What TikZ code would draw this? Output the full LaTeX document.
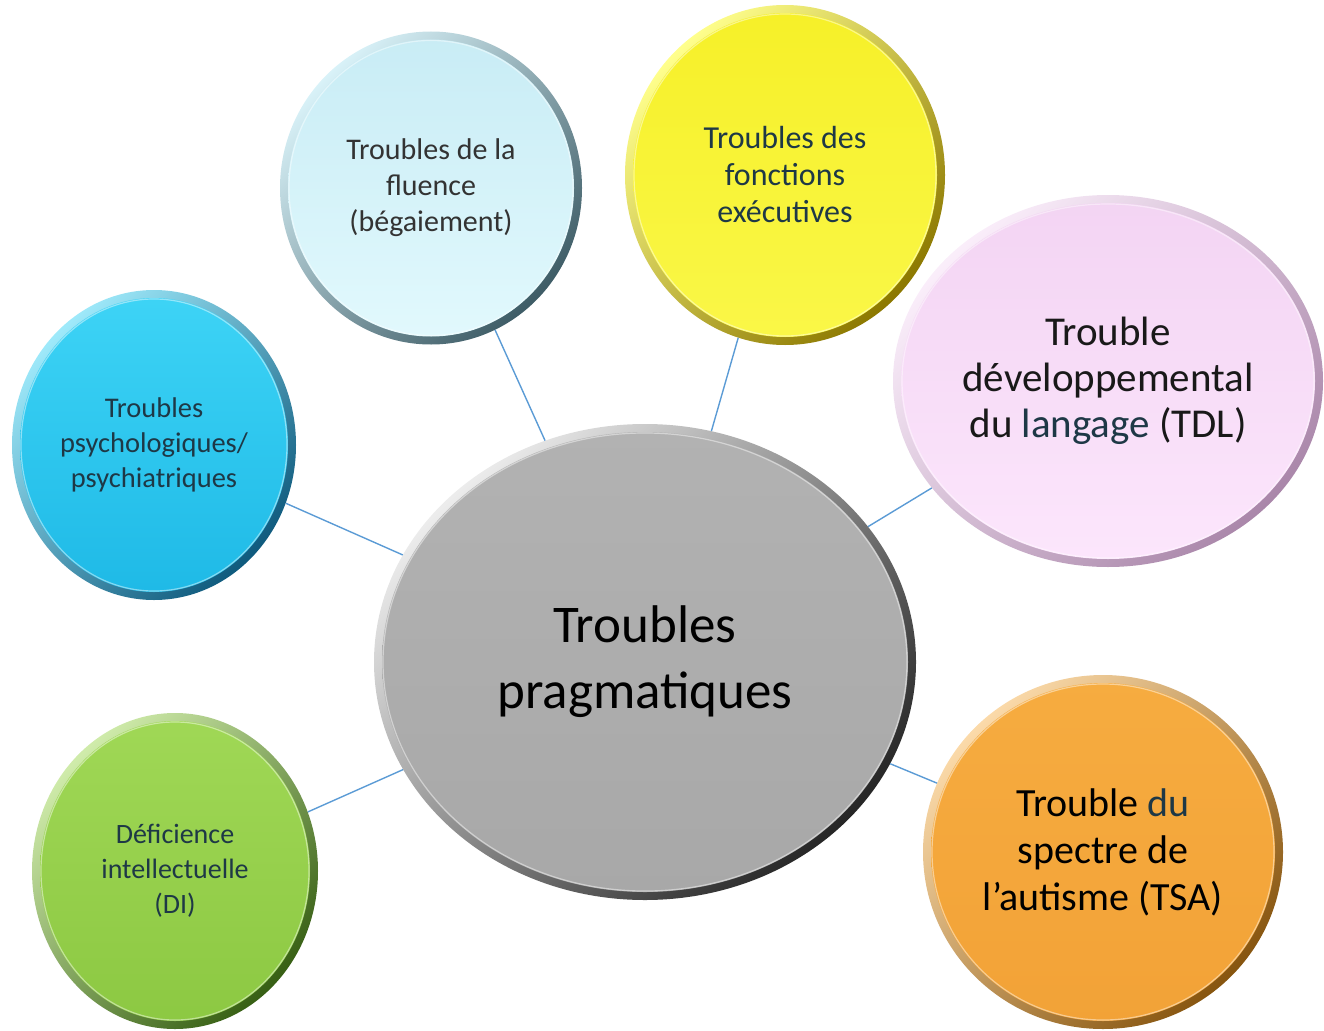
\documentclass[tikz,border=0pt]{standalone}
\usepackage{fontspec}
\setmainfont{Carlito}
\usetikzlibrary{shapes.geometric, calc}
\definecolor{mylink}{RGB}{91,155,213}
\definecolor{mytext}{RGB}{30,56,70}
\definecolor{greyin}{RGB}{178,178,178}
\definecolor{greyin2}{RGB}{168,168,168}
\definecolor{flin}{RGB}{200,236,245}
\definecolor{flin2}{RGB}{226,249,253}
\definecolor{flrim}{RGB}{62,92,102}
\definecolor{yein}{RGB}{246,240,40}
\definecolor{yein2}{RGB}{250,247,72}
\definecolor{yerim}{RGB}{140,120,0}
\definecolor{piin}{RGB}{243,212,243}
\definecolor{piin2}{RGB}{252,230,252}
\definecolor{pirim}{RGB}{170,135,170}
\definecolor{cyin}{RGB}{62,212,246}
\definecolor{cyin2}{RGB}{30,185,230}
\definecolor{cyrim}{RGB}{15,90,125}
\definecolor{grin}{RGB}{160,216,86}
\definecolor{grin2}{RGB}{140,200,66}
\definecolor{grrim}{RGB}{55,95,20}
\definecolor{orin}{RGB}{246,172,64}
\definecolor{orin2}{RGB}{242,162,55}
\definecolor{orrim}{RGB}{135,85,15}
\tikzset{
  bubble/.style n args={4}{ellipse, inner sep=0pt, align=center,
    top color=#1, bottom color=#2, shading angle=45,
    path picture={
      \shade[top color=#3, bottom color=#4]
        let \p1=($(path picture bounding box.north east)-(path picture bounding box.south west)$)
        in (path picture bounding box.center) ellipse ({abs(\x1)/2-8pt} and {abs(\y1)/2-8pt});
      \draw[white, opacity=.45, line width=1.2pt]
        let \p1=($(path picture bounding box.north east)-(path picture bounding box.south west)$)
        in (path picture bounding box.center) ellipse ({abs(\x1)/2-9pt} and {abs(\y1)/2-9pt});
    }},
  link/.style={draw=mylink, line width=1.4pt}
}

\begin{document}
\begin{tikzpicture}[x=1pt, y=-1pt]
\useasboundingbox (0,0) rectangle (1324,1030);

\node [bubble={gray!15}{black!85}{greyin}{greyin2}, minimum width=542, minimum height=476,
  font=\fontsize{53}{66}\selectfont] (tp) at (645,662) {Troubles\\pragmatiques};

\node [bubble={flin!70!white}{flrim}{flin}{flin2}, minimum width=302, minimum height=313,
  text=black!80, font=\fontsize{30}{36}\selectfont]
  (fl) at (431,188) {Troubles de la\\fluence\\(bégaiement)};

\node [bubble={yellow!45!white}{yerim}{yein}{yein2}, minimum width=320, minimum height=340,
  text=mytext, font=\fontsize{32}{37}\selectfont]
  (fe) at (785,175) {Troubles des\\fonctions\\exécutives};

\node [bubble={piin!40!white}{pirim}{piin}{piin2}, minimum width=430, minimum height=372,
  text=black!90, font=\fontsize{41}{46}\selectfont]
  (tdl) at (1108,381) {Trouble\\développemental\\du {\color{mytext}langage} (TDL)};

\node [bubble={cyin!50!white}{cyrim}{cyin}{cyin2}, minimum width=284, minimum height=310,
  text=mytext, font=\fontsize{28.5}{35}\selectfont]
  (psy) at (154,445) {Troubles\\psychologiques/\\psychiatriques};

\node [bubble={grin!50!white}{grrim}{grin}{grin2}, minimum width=286, minimum height=316,
  text=mytext, font=\fontsize{28}{35}\selectfont]
  (di) at (175,871) {Déficience\\intellectuelle\\(DI)};

\node [bubble={orin!45!white}{orrim}{orin}{orin2}, minimum width=360, minimum height=354,
  text=black, font=\fontsize{40}{47}\selectfont]
  (tsa) at (1103,852) {Trouble {\color{mytext}du}\\spectre de\\l’autisme (TSA)};

\draw [link] (tp) -- (fl);
\draw [link] (tp) -- (fe);
\draw [link] (tp) -- (tdl);
\draw [link] (tp) -- (psy);
\draw [link] (tp) -- (di);
\draw [link] (tp) -- (tsa);

\end{tikzpicture}
\end{document}
